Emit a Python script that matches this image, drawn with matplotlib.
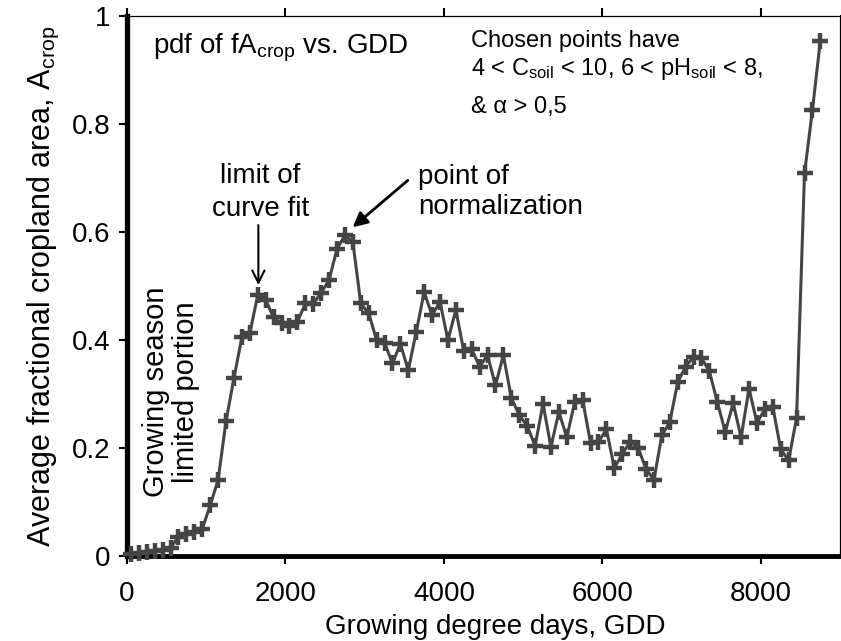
import matplotlib
matplotlib.use('Agg')
import matplotlib.pyplot as plt
import numpy as np

plt.rcParams['font.family'] = ['Liberation Sans', 'DejaVu Sans']
plt.rcParams['mathtext.fontset'] = 'custom'
plt.rcParams['mathtext.rm'] = 'Liberation Sans'
plt.rcParams['mathtext.it'] = 'Liberation Sans:italic'

#bin centres of growing degree days and the average cropland fraction
gdd = np.arange(50, 8800, 100)
a_crop = [0.004, 0.006, 0.007, 0.010, 0.011, 0.015, 0.036, 0.041, 0.044, 0.050,
          0.094, 0.141, 0.250, 0.330, 0.405, 0.413, 0.483, 0.474, 0.442, 0.431,
          0.427, 0.433, 0.468, 0.467, 0.488, 0.511, 0.569, 0.594, 0.582, 0.468,
          0.450, 0.400, 0.395, 0.357, 0.393, 0.344, 0.415, 0.489, 0.446, 0.471,
          0.400, 0.456, 0.380, 0.383, 0.351, 0.372, 0.316, 0.372, 0.293, 0.261,
          0.241, 0.204, 0.282, 0.202, 0.267, 0.220, 0.285, 0.289, 0.210, 0.211,
          0.235, 0.163, 0.189, 0.212, 0.201, 0.161, 0.141, 0.224, 0.248, 0.322,
          0.351, 0.369, 0.367, 0.342, 0.285, 0.230, 0.283, 0.220, 0.310, 0.247,
          0.272, 0.276, 0.198, 0.177, 0.256, 0.709, 0.826, 0.955]

x_ticks = [0, 2000, 4000, 6000, 8000]
y_ticks = [0, 0.2, 0.4, 0.6, 0.8, 1]
y_tick_labels = ['0', '0.2', '0.4', '0.6', '0.8', '1']

fig = plt.figure(figsize=(8.41, 6.41), dpi=100)
ax = fig.add_axes([0.151, 0.1326, 0.848, 0.842])

ax.plot(gdd, a_crop, color='#454545', lw=2.2, marker='+', ms=11, mew=3.2, clip_on=False, zorder=3)

ax.set_xlim(0, 9000)
ax.set_ylim(0, 1)
ax.set_xticks(x_ticks)
ax.set_yticks(y_ticks)
ax.set_yticklabels(y_tick_labels)
ax.tick_params(axis='both', direction='out', labelsize=20, top=True, right=True,
               length=6, width=1.5)
ax.tick_params(axis='x', pad=12)
ax.tick_params(axis='y', pad=6)

ax.spines['left'].set_linewidth(3.8)
ax.spines['bottom'].set_linewidth(3.5)
ax.spines['top'].set_linewidth(0.9)
ax.spines['right'].set_linewidth(0.9)

ax.set_xlabel('Growing degree days, GDD', fontsize=20)
ax.set_ylabel(r'Average fractional cropland area, A$_{\mathregular{crop}}$', fontsize=22)
ax.xaxis.set_label_coords(0.516, -0.108)
ax.yaxis.set_label_coords(-0.093, 0.5)

#annotations
ax.text(329, 0.931, r'pdf of fA$_{\mathregular{crop}}$ vs. GDD', fontsize=20, va='baseline')
ax.text(4342, 0.943, 'Chosen points have', fontsize=17, va='baseline')
ax.text(4342, 0.891, r'4 < C$_{\mathregular{soil}}$ < 10, 6 < pH$_{\mathregular{soil}}$ < 8,',
        fontsize=17, va='baseline')
ax.text(4342, 0.820, '& α > 0,5', fontsize=17, va='baseline')

ax.text(1684, 0.691, 'limit of', fontsize=20, ha='center', va='baseline')
ax.text(1684, 0.630, 'curve fit', fontsize=20, ha='center', va='baseline')
ax.annotate('', xy=(1658, 0.502), xytext=(1658, 0.613),
            arrowprops=dict(arrowstyle='->', lw=1.5, color='black', mutation_scale=22,
                            shrinkA=0, shrinkB=0))

ax.text(3671, 0.689, 'point of', fontsize=20, va='baseline')
ax.text(3671, 0.633, 'normalization', fontsize=20, va='baseline')
ax.annotate('', xy=(2848, 0.609), xytext=(3544, 0.696),
            arrowprops=dict(arrowstyle='-|>', lw=2, color='black', mutation_scale=22,
                            shrinkA=0, shrinkB=0))

ax.text(557, 0.304, 'Growing season\nlimited portion', fontsize=21, rotation=90,
        ha='center', va='center', multialignment='center', linespacing=1.1)

plt.savefig('out.png', dpi=100)
plt.close()
